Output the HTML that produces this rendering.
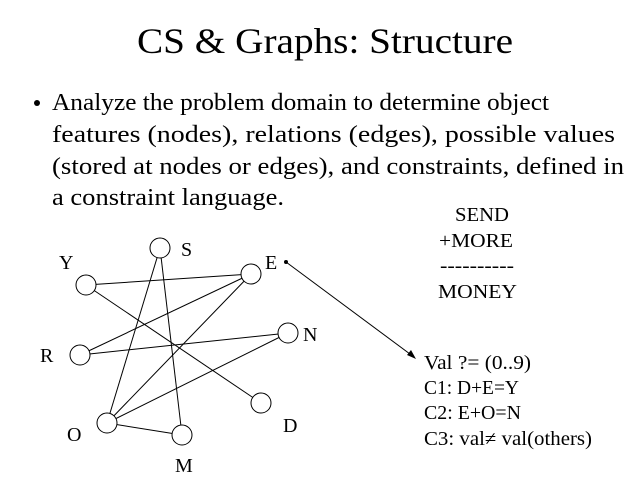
<!DOCTYPE html>
<html><head><style>
html,body{margin:0;padding:0;background:#fff;}
svg{display:block;}
text{font-family:"Liberation Serif",serif;fill:#000;}
</style></head><body>
<svg width="640" height="480" viewBox="0 0 640 480" xmlns="http://www.w3.org/2000/svg">
<text x="325" y="53" font-size="36" text-anchor="middle" textLength="376" lengthAdjust="spacingAndGlyphs">CS &amp; Graphs: Structure</text>
<circle cx="37" cy="103" r="3" fill="#000"/>
<g font-size="24">
<text x="52" y="110" textLength="497" lengthAdjust="spacingAndGlyphs">Analyze the problem domain to determine object</text>
<text x="52" y="142" textLength="563" lengthAdjust="spacingAndGlyphs">features (nodes), relations (edges), possible values</text>
<text x="52" y="174" textLength="572" lengthAdjust="spacingAndGlyphs">(stored at nodes or edges), and constraints, defined in</text>
<text x="52" y="205" textLength="232" lengthAdjust="spacingAndGlyphs">a constraint language.</text>
</g>
<g font-size="20">
<text x="455" y="221" textLength="54" lengthAdjust="spacingAndGlyphs">SEND</text>
<text x="439" y="247" textLength="74" lengthAdjust="spacingAndGlyphs">+MORE</text>
<text x="440" y="272" textLength="74" lengthAdjust="spacingAndGlyphs">----------</text>
<text x="438" y="298" textLength="79" lengthAdjust="spacingAndGlyphs">MONEY</text>
<text x="424" y="369" textLength="107" lengthAdjust="spacingAndGlyphs">Val ?= (0..9)</text>
<text x="424" y="394" textLength="95" lengthAdjust="spacingAndGlyphs">C1: D+E=Y</text>
<text x="424" y="419" textLength="97" lengthAdjust="spacingAndGlyphs">C2: E+O=N</text>
<text x="424" y="445" textLength="168" lengthAdjust="spacingAndGlyphs">C3: val≠ val(others)</text>
<text x="181" y="256">S</text>
<text x="59" y="269">Y</text>
<text x="265" y="269">E</text>
<text x="303" y="341">N</text>
<text x="40" y="362">R</text>
<text x="283" y="432">D</text>
<text x="67" y="441">O</text>
<text x="175" y="472">M</text>
</g>
<g stroke="#000" stroke-width="1" fill="none">
<line x1="86" y1="285" x2="251" y2="274"/>
<line x1="86" y1="285" x2="261" y2="403"/>
<line x1="160" y1="248" x2="107" y2="423"/>
<line x1="160" y1="248" x2="182" y2="435"/>
<line x1="251" y1="274" x2="80" y2="355"/>
<line x1="251" y1="274" x2="107" y2="423"/>
<line x1="80" y1="355" x2="288" y2="333"/>
<line x1="288" y1="333" x2="107" y2="423"/>
<line x1="107" y1="423" x2="182" y2="435"/>
<line x1="286" y1="262" x2="414" y2="357"/>
</g>
<polygon points="416,359 407,355 411,350" fill="#000"/>
<circle cx="286" cy="262" r="2" fill="#000"/>
<g stroke="#000" stroke-width="1" fill="#fff">
<circle cx="160" cy="248" r="10"/>
<circle cx="86" cy="285" r="10"/>
<circle cx="251" cy="274" r="10"/>
<circle cx="288" cy="333" r="10"/>
<circle cx="80" cy="355" r="10"/>
<circle cx="261" cy="403" r="10"/>
<circle cx="107" cy="423" r="10"/>
<circle cx="182" cy="435" r="10"/>
</g>
</svg>
</body></html>
